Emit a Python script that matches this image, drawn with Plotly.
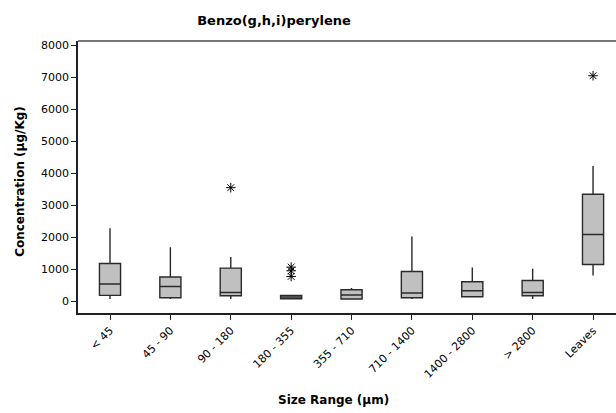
import plotly.graph_objects as go

categories = ["< 45", "45 - 90", "90 - 180", "180 - 355", "355 - 710",
              "710 - 1400", "1400 - 2800", "> 2800", "Leaves"]
lower_whisker = [69, 69, 69, 78, 69, 69, 140, 69, 804]
q1 = [181, 109, 171, 78, 69, 109, 140, 171, 1146]
median = [536, 461, 274, 131, 193, 255, 327, 274, 2081]
q3 = [1178, 754, 1034, 181, 358, 928, 607, 648, 3340]
upper_whisker = [2280, 1688, 1377, 202, 411, 2019, 1053, 1012, 4221]

outlier_cat = ["90 - 180", "180 - 355", "180 - 355", "180 - 355", "Leaves"]
outlier_val = [3545, 1065, 950, 773, 7040]

yticks = [0, 1000, 2000, 3000, 4000, 5000, 6000, 7000, 8000]

FONT = "DejaVu Sans"

fig = go.Figure()
fig.add_trace(go.Box(
    x=categories, q1=q1, median=median, q3=q3,
    lowerfence=lower_whisker, upperfence=upper_whisker,
    fillcolor="#c0c0c0", line=dict(color="#2a2a2a", width=1.4),
    whiskerwidth=0, width=0.35, boxpoints=False, showlegend=False,
))
fig.add_trace(go.Scatter(
    x=outlier_cat, y=outlier_val, mode="markers",
    marker=dict(symbol="asterisk-open", size=8, color="black",
                line=dict(color="black", width=1)),
    showlegend=False,
))

fig.update_layout(
    width=616, height=413,
    margin=dict(l=78, r=0, t=41, b=100),
    paper_bgcolor="white", plot_bgcolor="white",
    font=dict(family=FONT, size=11, color="black"),
    title=dict(text="<b>Benzo(g,h,i)perylene</b>", xref="container",
               x=274 / 616, xanchor="center", yref="container",
               y=1 - 20 / 413, yanchor="middle",
               font=dict(family=FONT, size=13, color="black")),
    xaxis=dict(type="category", categoryorder="array", categoryarray=categories,
               range=[-0.53, 8.38], showline=True, linecolor="#222",
               linewidth=1.5, ticks="outside", ticklen=5, tickcolor="#222",
               tickangle=-45, showgrid=False, zeroline=False,
               tickfont=dict(family=FONT, size=11)),
    yaxis=dict(range=[-368, 8125], tickvals=yticks, showline=True,
               linecolor="#222", linewidth=1.5, ticks="outside", ticklen=5,
               tickcolor="#222", showgrid=False, zeroline=False,
               tickfont=dict(family=FONT, size=11)),
    shapes=[dict(type="line", xref="paper", yref="paper", x0=0, x1=1,
                 y0=1, y1=1, line=dict(color="#777", width=2))],
    annotations=[
        dict(text="<b>Size Range (µm)</b>", xref="paper", yref="paper",
             x=(333 - 78) / 538, y=(313.3 - 400) / 272.3, showarrow=False,
             xanchor="center", yanchor="middle",
             font=dict(family=FONT, size=12)),
        dict(text="<b>Concentration (µg/Kg)</b>", xref="paper", yref="paper",
             x=(20 - 78) / 538, y=(313.3 - 182) / 272.3, showarrow=False,
             textangle=-90, xanchor="center", yanchor="middle",
             font=dict(family=FONT, size=12)),
    ],
)

fig.write_html("out.html")
